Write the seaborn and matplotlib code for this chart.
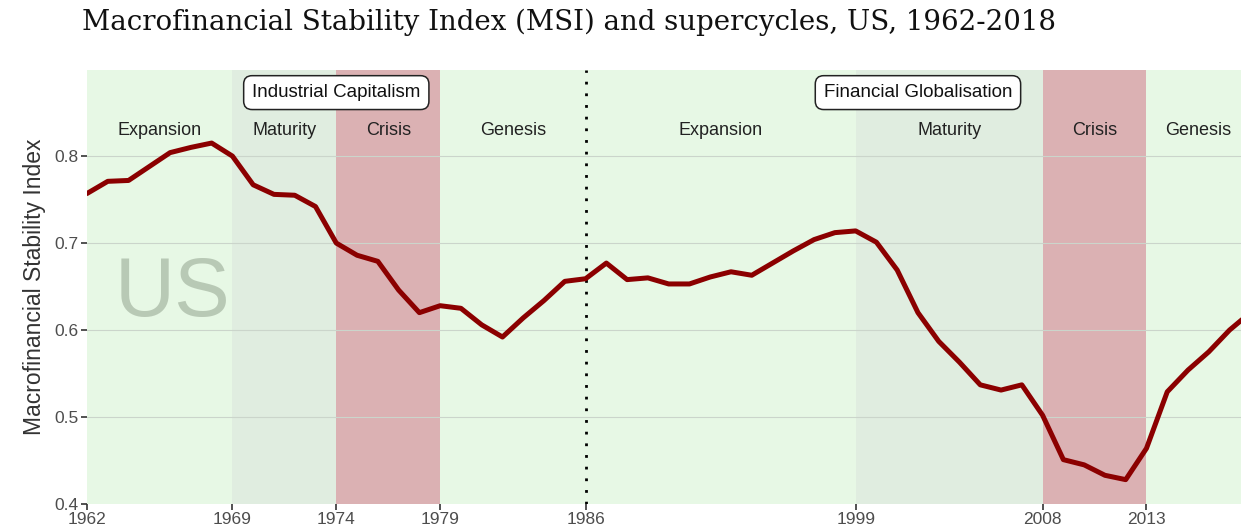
import numpy as np
import pandas as pd
import seaborn as sns
import matplotlib.pyplot as plt

years = list(range(1962, 2019))
msi = [0.757, 0.771, 0.772, 0.788, 0.804, 0.810, 0.815, 0.800, 0.767, 0.756,
       0.755, 0.742, 0.700, 0.686, 0.679, 0.646, 0.620, 0.628, 0.625, 0.606,
       0.592, 0.614, 0.634, 0.656, 0.659, 0.677, 0.658, 0.660, 0.653, 0.653,
       0.661, 0.667, 0.663, 0.677, 0.691, 0.704, 0.712, 0.714, 0.701, 0.669,
       0.620, 0.587, 0.563, 0.537, 0.531, 0.537, 0.502, 0.451, 0.445, 0.433,
       0.428, 0.464, 0.529, 0.554, 0.575, 0.600, 0.620]

phase_names = ['Expansion', 'Maturity', 'Crisis', 'Genesis',
               'Expansion', 'Maturity', 'Crisis', 'Genesis']
phase_start = [1962, 1969, 1974, 1979, 1986, 1999, 2008, 2013]
phase_end = [1969, 1974, 1979, 1986, 1999, 2008, 2013, 2018]
cycle_names = ['Industrial Capitalism', 'Financial Globalisation']
cycle_mid = [1974, 2002]
xticks = [1962, 1969, 1974, 1979, 1986, 1999, 2008, 2013]

phase_colors = {'Expansion': '#e7f8e5', 'Genesis': '#e7f8e5',
                'Maturity': '#e0ede0', 'Crisis': '#dbb1b3'}

df = pd.DataFrame({'year': years, 'msi': msi})

sns.set_theme(style='white')
plt.rcParams['font.family'] = ['Liberation Sans', 'DejaVu Sans']

fig = plt.figure(figsize=(12.41, 5.31), dpi=100)
ax = fig.add_axes([87 / 1241, 1 - 504 / 531, 1 - 87 / 1241, (504 - 70) / 531])

for name, s, e in zip(phase_names, phase_start, phase_end):
    ax.axvspan(s, e, color=phase_colors[name], lw=0, zorder=0)
    ax.text((s + e) / 2, 0.830, name, ha='center', va='center',
            fontsize=13, color='#222222', zorder=3)

for y in [0.5, 0.6, 0.7, 0.8]:
    ax.axhline(y, color='#cbd5cb', lw=0.8, zorder=1)

ax.axvline(1986, color='black', ls=(0, (1, 3.2)), lw=2, zorder=2)

sns.lineplot(data=df, x='year', y='msi', color='#8b0000', lw=3.6, ax=ax, zorder=4)

for name, m in zip(cycle_names, cycle_mid):
    ax.text(m, 0.873, name, ha='center', va='center', fontsize=13.5, color='#111111',
            zorder=5,
            bbox=dict(boxstyle='round,pad=0.45,rounding_size=0.45', fc='white',
                      ec='#222222', lw=1.1))

ax.text(1966.1, 0.642, 'US', ha='center', va='center', fontsize=60,
        color='#9aaa96', alpha=0.6, zorder=3)

ax.set_xlim(1962, 2017.55)
ax.set_ylim(0.4, 0.899)
ax.set_xticks(xticks)
ax.set_yticks([0.4, 0.5, 0.6, 0.7, 0.8])
ax.set_yticklabels(['0.4', '0.5', '0.6', '0.7', '0.8'])
ax.tick_params(axis='both', labelsize=12.5, labelcolor='#4d4d4d', length=4,
               width=1.2, color='#333333', pad=2, left=True, bottom=True)
ax.set_xlabel('')
ax.set_ylabel('Macrofinancial Stability Index', fontsize=16.5, color='#333333', labelpad=6)
for sp in ax.spines.values():
    sp.set_visible(False)

fig.text(82 / 1241, 1 - 22 / 531, 'Macrofinancial Stability Index (MSI) and supercycles, US, 1962-2018',
         ha='left', va='center', fontsize=19.9, family='DejaVu Serif', color='#111111')

fig.savefig('out.png', dpi=100)
